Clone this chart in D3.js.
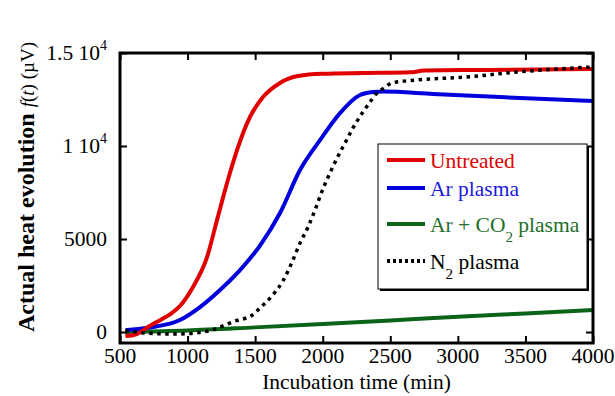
<!DOCTYPE html>
<html>
<head>
<meta charset="utf-8">
<script src="https://cdn.jsdelivr.net/npm/d3@7"></script>
<style>
  body { margin: 0; background: #fff; }
</style>
</head>
<body>
<div id="chart"></div>
<script>
// values (time in min, heat in µV)
const untreatedT = [540, 620, 707, 800, 870, 950, 1040, 1144, 1218, 1292, 1366, 1462, 1558, 1684, 1817, 2000, 2300, 2650, 2750, 3200, 3600, 4000];
const untreatedV = [-220, -120, 270, 650, 950, 1450, 2420, 4030, 6020, 8010, 9780, 11560, 12630, 13390, 13760, 13880, 13920, 13960, 14060, 14090, 14110, 14140];

const arT = [540, 707, 944, 1092, 1240, 1388, 1536, 1684, 1832, 1980, 2128, 2276, 2372, 2450, 2816, 3312, 4000];
const arV = [100, 230, 645, 1340, 2260, 3330, 4650, 6400, 8710, 10320, 11770, 12740, 12900, 12930, 12800, 12630, 12420];

const co2T = [540, 1000, 1500, 2000, 2500, 3000, 3500, 4000];
const co2V = [0, 80, 250, 430, 620, 820, 1000, 1180];

const n2T = [540, 700, 907, 1055, 1181, 1240, 1351, 1477, 1536, 1632, 1706, 1773, 1832, 1891, 1943, 2002, 2060, 2106, 2165, 2224, 2298, 2350, 2402, 2454, 2513, 2698, 3068, 3438, 4000];
const n2V = [80, -60, -110, -50, 110, 270, 590, 900, 1290, 2000, 2750, 3760, 4780, 5640, 6560, 7700, 8650, 9350, 10160, 10970, 11830, 12360, 12850, 13120, 13390, 13550, 13710, 13980, 14250];

const xTicks = [500, 1000, 1500, 2000, 2500, 3000, 3500, 4000];
const yTicks = [0, 5000, 10000, 15000];

const W = 615, H = 396;
const margin = {left: 120, right: 22, top: 53, bottom: 53};
const fs = 21.5;

const svg = d3.select("#chart").append("svg")
  .attr("width", W).attr("height", H)
  .attr("font-family", "'Liberation Serif', 'DejaVu Serif', serif");

const x = d3.scaleLinear().domain([500, 4000]).range([margin.left, W - margin.right]);
const y = d3.scaleLinear().domain([-590, 15000]).range([H - margin.bottom, margin.top]);

const line = d3.line()
  .x(d => x(d[0]))
  .y(d => y(d[1]))
  .curve(d3.curveMonotoneX);

const series = [
  {t: co2T, v: co2V, color: "#0b6318", dash: null},
  {t: arT, v: arV, color: "#0000dd", dash: null},
  {t: untreatedT, v: untreatedV, color: "#e00000", dash: null},
  {t: n2T, v: n2V, color: "#000", dash: "3.5,4.5"}
];

series.forEach(s => {
  svg.append("path")
    .datum(d3.zip(s.t, s.v))
    .attr("d", line)
    .attr("fill", "none")
    .attr("stroke", s.color)
    .attr("stroke-width", s.dash ? 3.5 : 4)
    .attr("stroke-dasharray", s.dash);
});

// axes, ticks drawn inward on all four sides
const tickLen = 7;
svg.append("g").attr("transform", "translate(0," + (H - margin.bottom) + ")")
  .call(d3.axisBottom(x).tickValues(xTicks).tickSizeInner(-tickLen).tickSizeOuter(0).tickFormat(""))
  .call(g => g.select(".domain").remove());
svg.append("g").attr("transform", "translate(0," + margin.top + ")")
  .call(d3.axisTop(x).tickValues(xTicks).tickSizeInner(-tickLen).tickSizeOuter(0).tickFormat(""))
  .call(g => g.select(".domain").remove());
svg.append("g").attr("transform", "translate(" + margin.left + ",0)")
  .call(d3.axisLeft(y).tickValues(yTicks).tickSizeInner(-tickLen).tickSizeOuter(0).tickFormat(""))
  .call(g => g.select(".domain").remove());
svg.append("g").attr("transform", "translate(" + (W - margin.right) + ",0)")
  .call(d3.axisRight(y).tickValues(yTicks).tickSizeInner(-tickLen).tickSizeOuter(0).tickFormat(""))
  .call(g => g.select(".domain").remove());
svg.selectAll(".tick line").attr("stroke", "#000").attr("stroke-width", 2);

svg.append("rect")
  .attr("x", margin.left).attr("y", margin.top)
  .attr("width", W - margin.left - margin.right)
  .attr("height", H - margin.top - margin.bottom)
  .attr("fill", "none").attr("stroke", "#000").attr("stroke-width", 3);

// x tick labels
svg.append("g").selectAll("text").data(xTicks).join("text")
  .attr("x", d => x(d)).attr("y", 363)
  .attr("text-anchor", "middle")
  .attr("font-size", fs)
  .text(d => d);

// y tick labels
const yl = svg.append("g").selectAll("text").data(yTicks).join("text")
  .attr("x", 107).attr("y", d => y(d) + 7)
  .attr("text-anchor", "end")
  .attr("font-size", fs);
yl.each(function(d) {
  const t = d3.select(this);
  if (d >= 10000) {
    t.append("tspan").text((d / 10000) + " 10");
    t.append("tspan").attr("font-size", 14).attr("dy", -10).text("4");
  } else {
    t.text(d);
  }
});

svg.append("text")
  .attr("x", (margin.left + W - margin.right) / 2).attr("y", 389)
  .attr("text-anchor", "middle")
  .attr("font-size", fs)
  .text("Incubation time (min)");

const yt = svg.append("text")
  .attr("transform", "translate(34," + 332 + ") rotate(-90)")
  .attr("text-anchor", "start")
  .attr("font-size", 24);
yt.append("tspan").attr("font-weight", "bold").text("Actual heat evolution ");
yt.append("tspan").attr("font-style", "italic").attr("font-size", 19).text("f");
yt.append("tspan").attr("font-size", 19).text("(");
yt.append("tspan").attr("font-style", "italic").attr("font-size", 19).text("t");
yt.append("tspan").attr("font-size", 19).text(") (\u00b5V)");

// legend
const lg = svg.append("g");
lg.append("rect").attr("x", 380).attr("y", 146).attr("width", 209).attr("height", 145).attr("fill", "#000");
lg.append("rect").attr("x", 378).attr("y", 144).attr("width", 209).attr("height", 145)
  .attr("fill", "#fff").attr("stroke", "#000").attr("stroke-width", 1);

const legendItems = [
  {label: "Untreated", sub: null, rest: "", color: "#e00000", text: "#e00000", dash: null, y: 160},
  {label: "Ar plasma", sub: null, rest: "", color: "#0000dd", text: "#1a1adf", dash: null, y: 188},
  {label: "Ar + CO", sub: "2", rest: " plasma", color: "#0b6318", text: "#1e6e2a", dash: null, y: 224},
  {label: "N", sub: "2", rest: " plasma", color: "#000", text: "#000", dash: "3,3", y: 261}
];
legendItems.forEach(it => {
  lg.append("line")
    .attr("x1", 387).attr("x2", 425)
    .attr("y1", it.y).attr("y2", it.y)
    .attr("stroke", it.color).attr("stroke-width", 4)
    .attr("stroke-dasharray", it.dash);
  const t = lg.append("text")
    .attr("x", 430).attr("y", it.y + 8)
    .attr("font-size", fs)
    .attr("fill", it.text);
  t.append("tspan").text(it.label);
  if (it.sub) {
    t.append("tspan").attr("font-size", 15).attr("dy", 10).text(it.sub);
    t.append("tspan").attr("dy", -10).text(it.rest);
  }
});
</script>
</body>
</html>
